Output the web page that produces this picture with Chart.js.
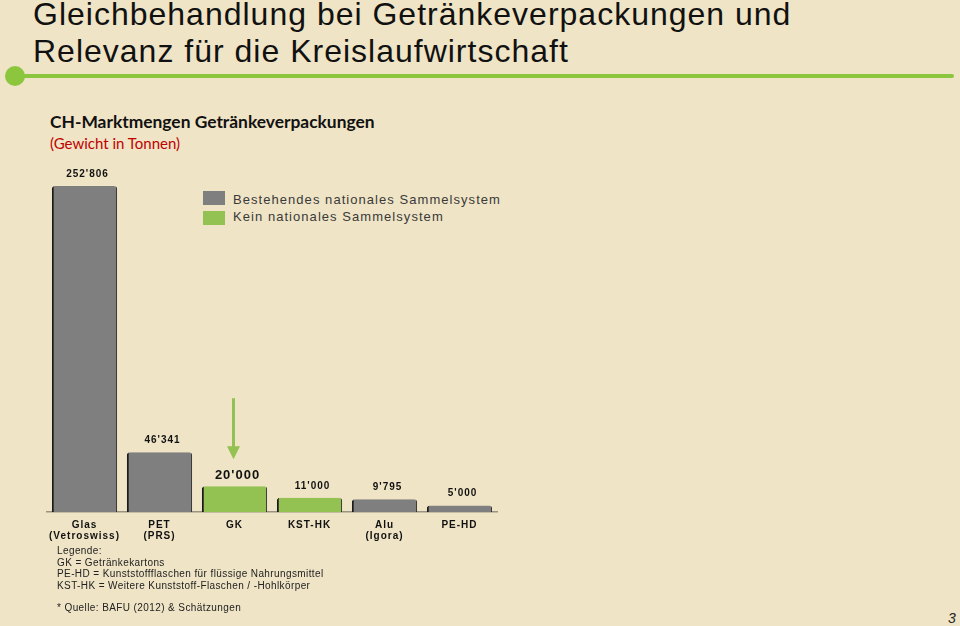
<!DOCTYPE html>
<html><head><meta charset="utf-8">
<script src="https://cdn.jsdelivr.net/npm/chart.js@4"></script>
<style>
html,body{margin:0;padding:0;}
body{width:960px;height:626px;background:#efe4c5;position:relative;overflow:hidden;font-family:"Liberation Sans",Arial,sans-serif;}
.t{position:absolute;white-space:nowrap;}
#title{left:33px;top:-4px;font-family:"Liberation Sans",sans-serif;font-size:32px;line-height:37px;color:#111;letter-spacing:1px;}
#line{position:absolute;left:12px;top:74px;width:942px;height:4px;background:#8cc63f;border-radius:2px;}
#dot{position:absolute;left:5px;top:66px;width:20px;height:20px;border-radius:50%;background:#8cc63f;}
#sub{left:50px;top:111px;font-family:Lato,"Open Sans",sans-serif;font-weight:bold;font-size:17.4px;color:#111;}
#sub2{left:50px;top:134px;font-family:Lato,"Open Sans",sans-serif;font-size:15px;color:#c00000;}
.sw{position:absolute;left:203px;width:22px;height:14px;}
.lt{left:233px;font-size:13px;color:#3a3a3a;letter-spacing:1.05px;}
#notes{left:57px;top:545px;font-size:10px;line-height:11.5px;color:#222;letter-spacing:0.4px;}
#src{left:57px;top:602px;font-size:10px;color:#222;letter-spacing:0.4px;}
#pg{left:948px;top:610px;font-size:14px;font-style:italic;color:#222;}
#wrap{position:absolute;left:40px;top:150px;width:480px;height:400px;}
</style></head>
<body>
<div id="title" class="t">Gleichbehandlung bei Getränkeverpackungen und<br>Relevanz für die Kreislaufwirtschaft</div>
<div id="line"></div><div id="dot"></div>
<div id="sub" class="t">CH-Marktmengen Getränkeverpackungen</div>
<div id="sub2" class="t">(Gewicht in Tonnen)</div>
<div id="legend"></div>
<div id="wrap"><canvas id="c" width="480" height="400"></canvas></div>
<div id="notes" class="t">Legende:<br>GK = Getränkekartons<br>PE-HD = Kunststoffflaschen für flüssige Nahrungsmittel<br>KST-HK = Weitere Kunststoff-Flaschen / -Hohlkörper</div>
<div id="src" class="t">* Quelle: BAFU (2012) &amp; Schätzungen</div>
<div id="pg" class="t">3</div>
<script>
const categories = [["Glas","(Vetroswiss)"],["PET","(PRS)"],["GK"],["KST-HK"],["Alu","(Igora)"],["PE-HD"]];
const seriesNames = ["Bestehendes nationales Sammelsystem","Kein nationales Sammelsystem"];
const bestehend = [252806, 46341, null, null, 9795, 5000];
const keinSystem = [null, null, 20000, 11000, null, null];
const valueLabels = ["252'806","46'341","20'000","11'000","9'795","5'000"];
const colors = ["#7f7f7f", "#93c152"];

// HTML legend
const lg = document.getElementById('legend');
seriesNames.forEach((n,i)=>{
  const s=document.createElement('div');s.className='sw';s.style.top=(191+i*20)+'px';s.style.background=colors[i];lg.appendChild(s);
  const t=document.createElement('div');t.className='t lt';t.style.top=(192+i*17)+'px';t.textContent=n;lg.appendChild(t);
});

const labelPlugin = {
  id:'vals',
  beforeDraw(chart){ chart.ctx.letterSpacing='1px'; },
  afterDatasetsDraw(chart){
    const ctx=chart.ctx;
    ctx.save();
    ctx.letterSpacing='1px';
    ctx.textAlign='center';ctx.textBaseline='middle';ctx.fillStyle='#111';
    chart.data.datasets.forEach((ds,di)=>{
      const meta=chart.getDatasetMeta(di);
      ds.data.forEach((v,i)=>{
        if(v==null) return;
        const el=meta.data[i];
        const big = di===1 && i===2;
        ctx.font = big ? 'bold 13px "Liberation Sans", Arial' : 'bold 10px "Liberation Sans", Arial';
        ctx.fillText(valueLabels[i], el.x+3, el.y-(big?11:12));
        if(big){
          // arrow pointing at GK bar
          ctx.fillStyle=colors[1];
          ctx.fillRect(el.x-2.5, el.y-88, 3, 50);
          ctx.beginPath();
          ctx.moveTo(el.x-7.5, el.y-40);
          ctx.lineTo(el.x+5.5, el.y-40);
          ctx.lineTo(el.x-1, el.y-27);
          ctx.closePath();ctx.fill();
          ctx.fillStyle='#111';
        }
      });
    });
    ctx.restore();
  }
};

new Chart(document.getElementById('c'),{
  type:'bar',
  data:{labels:categories,datasets:[
    {label:seriesNames[0],data:bestehend,backgroundColor:colors[0],borderColor:'#1a1a1a',borderWidth:{left:2,right:1,top:0,bottom:0},borderRadius:{topLeft:3,topRight:3},borderSkipped:false,barPercentage:0.87,categoryPercentage:1},
    {label:seriesNames[1],data:keinSystem,backgroundColor:colors[1],borderColor:'#1a1a1a',borderWidth:{left:2,right:1,top:0,bottom:0},borderRadius:{topLeft:3,topRight:3},borderSkipped:false,barPercentage:0.87,categoryPercentage:1}
  ]},
  options:{
    responsive:false,animation:false,
    layout:{padding:{left:7,right:23,top:10,bottom:0}},
    plugins:{legend:{display:false},tooltip:{enabled:false}},
    scales:{
      x:{stacked:true,grid:{display:false,drawTicks:false},border:{display:true,color:'#9a9482',width:1.5},
         ticks:{padding:8,color:'#111',font:{family:'"Liberation Sans", Arial',size:10,weight:'bold',lineHeight:1.1},maxRotation:0,autoSkip:false},
         afterFit(s){s.height=38;}},
      y:{stacked:true,display:false,min:0,max:273000}
    }
  },
  plugins:[labelPlugin]
});
</script>
</body></html>
